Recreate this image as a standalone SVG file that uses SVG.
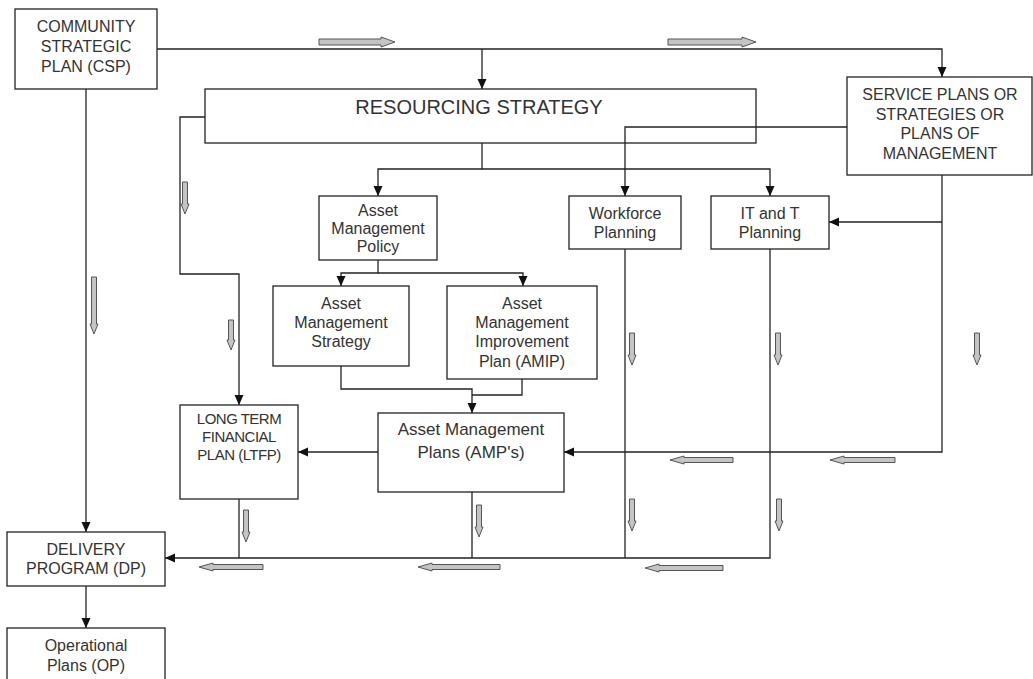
<svg xmlns="http://www.w3.org/2000/svg" width="1033" height="679" viewBox="0 0 1033 679">
<defs>
<style>
.box{fill:#fff;stroke:#222;stroke-width:1.3}
.ln{fill:none;stroke:#222;stroke-width:1.3}
.t{font-family:"Liberation Sans",Arial,sans-serif;font-size:16px;fill:#333;text-anchor:middle}
.ha{fill:#c4c4c4;stroke:#555;stroke-width:1}
</style>
<marker id="ah" markerWidth="10" markerHeight="10" refX="10" refY="5" orient="auto" markerUnits="userSpaceOnUse"><path d="M0,0.5 L10,5 L0,9.5 z" fill="#111"/></marker>
</defs>
<rect width="1033" height="679" fill="#fff"/>

<g id="resourcing">
<rect class="box" x="205" y="89" width="551" height="54"/>
<text class="t" x="479" y="114" style="font-size:20px">RESOURCING STRATEGY</text>
</g>

<g id="connectors">
<path class="ln" d="M157,49 H942 V77" marker-end="url(#ah)"/>
<path class="ln" d="M482,49 V89" marker-end="url(#ah)"/>
<path class="ln" d="M86,89 V532" marker-end="url(#ah)"/>
<path class="ln" d="M86,586 V628" marker-end="url(#ah)"/>
<path class="ln" d="M205,117 H180 V274 H239 V405" marker-end="url(#ah)"/>
<path class="ln" d="M482,143 V169 H770 V196" marker-end="url(#ah)"/>
<path class="ln" d="M482,169 H378 V196" marker-end="url(#ah)"/>
<path class="ln" d="M847,127 H625 V196" marker-end="url(#ah)"/>
<path class="ln" d="M378,260 V273 H341 V286" marker-end="url(#ah)"/>
<path class="ln" d="M378,273 H523 V286" marker-end="url(#ah)"/>
<path class="ln" d="M341,366 V389 H472 V413" marker-end="url(#ah)"/>
<path class="ln" d="M522,379 V395 H472"/>
<path class="ln" d="M378,452 H298" marker-end="url(#ah)"/>
<path class="ln" d="M942,175 V452 H564" marker-end="url(#ah)"/>
<path class="ln" d="M942,222 H829" marker-end="url(#ah)"/>
<path class="ln" d="M239,499 V558"/>
<path class="ln" d="M472,492 V558"/>
<path class="ln" d="M625,249 V558"/>
<path class="ln" d="M770,249 V558 H165" marker-end="url(#ah)"/>
<polygon class="ha" points="319,39 381,39 381,37 395,42 381,47 381,45 319,45"/>
<polygon class="ha" points="668,39 742,39 742,37 756,42 742,47 742,45 668,45"/>
<polygon class="ha" points="91.5,277 96.5,277 96.5,324 98,324 94,334 90,324 91.5,324"/>
<polygon class="ha" points="182.5,182 187.5,182 187.5,204 189,204 185,214 181,204 182.5,204"/>
<polygon class="ha" points="228.5,320 233.5,320 233.5,340 235,340 231,350 227,340 228.5,340"/>
<polygon class="ha" points="629.5,333 634.5,333 634.5,355 636,355 632,365 628,355 629.5,355"/>
<polygon class="ha" points="775.5,333 780.5,333 780.5,355 782,355 778,365 774,355 775.5,355"/>
<polygon class="ha" points="974.5,333 979.5,333 979.5,355 981,355 977,365 973,355 974.5,355"/>
<polygon class="ha" points="243.5,510 248.5,510 248.5,532 250,532 246,542 242,532 243.5,532"/>
<polygon class="ha" points="476.5,505 481.5,505 481.5,527 483,527 479,537 475,527 476.5,527"/>
<polygon class="ha" points="629.5,499 634.5,499 634.5,521 636,521 632,531 628,521 629.5,521"/>
<polygon class="ha" points="776.5,499 781.5,499 781.5,521 783,521 779,531 775,521 776.5,521"/>
<polygon class="ha" points="670,460 684,456 684,457.5 733,457.5 733,462.5 684,462.5 684,464"/>
<polygon class="ha" points="830,460 844,456 844,457.5 895,457.5 895,462.5 844,462.5 844,464"/>
<polygon class="ha" points="199,567 213,563 213,564.5 263,564.5 263,569.5 213,569.5 213,571"/>
<polygon class="ha" points="418,567 432,563 432,564.5 500,564.5 500,569.5 432,569.5 432,571"/>
<polygon class="ha" points="645,568 659,564 659,565.5 723,565.5 723,570.5 659,570.5 659,572"/>
</g>

<g id="csp">
<rect class="box" x="15" y="9" width="142" height="80"/>
<text class="t" x="86" y="32">COMMUNITY</text>
<text class="t" x="86" y="52">STRATEGIC</text>
<text class="t" x="86" y="72">PLAN (CSP)</text>
</g>

<g id="service">
<rect class="box" x="847" y="77" width="185" height="98"/>
<text class="t" x="940" y="100">SERVICE PLANS OR</text>
<text class="t" x="940" y="120">STRATEGIES OR</text>
<text class="t" x="940" y="139">PLANS OF</text>
<text class="t" x="940" y="159">MANAGEMENT</text>
</g>

<g id="policy">
<rect class="box" x="319" y="196" width="118" height="64"/>
<text class="t" x="378" y="216">Asset</text>
<text class="t" x="378" y="234">Management</text>
<text class="t" x="378" y="252">Policy</text>
</g>

<g id="workforce">
<rect class="box" x="569" y="196" width="112" height="53"/>
<text class="t" x="625" y="219">Workforce</text>
<text class="t" x="625" y="238">Planning</text>
</g>

<g id="itt">
<rect class="box" x="711" y="196" width="118" height="53"/>
<text class="t" x="770" y="219">IT and T</text>
<text class="t" x="770" y="238">Planning</text>
</g>

<g id="ams">
<rect class="box" x="273" y="286" width="136" height="80"/>
<text class="t" x="341" y="309">Asset</text>
<text class="t" x="341" y="328">Management</text>
<text class="t" x="341" y="347">Strategy</text>
</g>

<g id="amip">
<rect class="box" x="447" y="286" width="150" height="93"/>
<text class="t" x="522" y="309">Asset</text>
<text class="t" x="522" y="328">Management</text>
<text class="t" x="522" y="347">Improvement</text>
<text class="t" x="522" y="367">Plan (AMIP)</text>
</g>

<g id="ltfp">
<rect class="box" x="180" y="405" width="118" height="94"/>
<text class="t" x="239" y="424" style="font-size:15px;letter-spacing:-0.5px">LONG TERM</text>
<text class="t" x="239" y="442" style="font-size:15px;letter-spacing:-0.5px">FINANCIAL</text>
<text class="t" x="239" y="460" style="font-size:15px;letter-spacing:-0.5px">PLAN (LTFP)</text>
</g>

<g id="amp">
<rect class="box" x="378" y="413" width="186" height="79"/>
<text class="t" x="471" y="435" style="font-size:17px">Asset Management</text>
<text class="t" x="471" y="458" style="font-size:17px">Plans (AMP's)</text>
</g>

<g id="dp">
<rect class="box" x="7" y="532" width="158" height="54"/>
<text class="t" x="86" y="555">DELIVERY</text>
<text class="t" x="86" y="574">PROGRAM (DP)</text>
</g>

<g id="op">
<rect class="box" x="7" y="628" width="158" height="60"/>
<text class="t" x="86" y="651">Operational</text>
<text class="t" x="86" y="671">Plans (OP)</text>
</g>
</svg>
